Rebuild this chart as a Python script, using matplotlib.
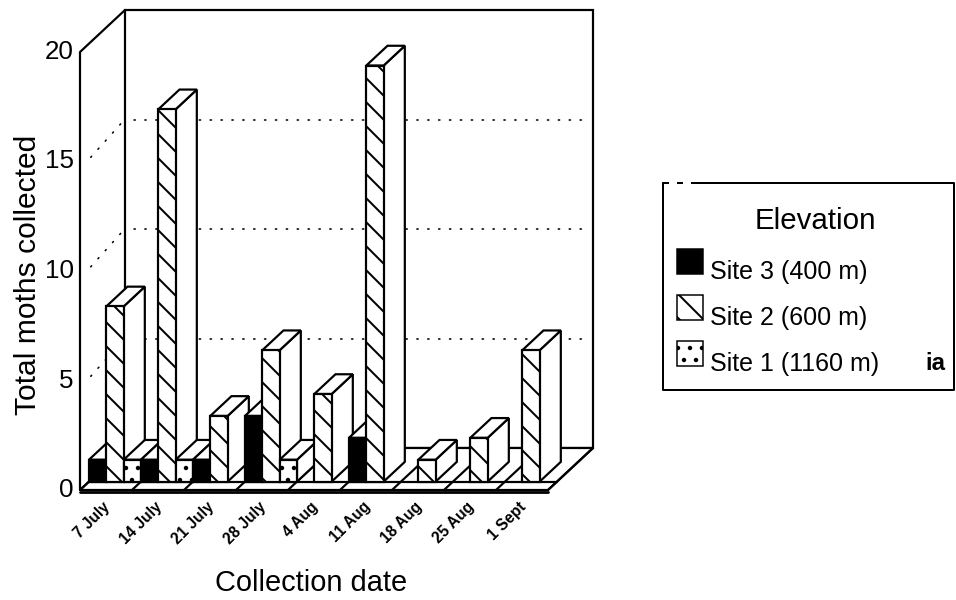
import matplotlib
matplotlib.use("Agg")
import matplotlib.pyplot as plt
from matplotlib.patches import Polygon, Rectangle

# ---- data -------------------------------------------------------------
dates = ["7 July", "14 July", "21 July", "28 July", "4 Aug",
         "11 Aug", "18 Aug", "25 Aug", "1 Sept"]
site3 = [1, 1, 1, 3, 0, 2, 0, 0, 0]      # 400 m
site2 = [8, 17, 3, 6, 4, 19, 1, 2, 6]    # 600 m
site1 = [1, 1, 0, 1, 0, 0, 0, 0, 0]      # 1160 m
series_labels = ["Site 3 (400 m)", "Site 2 (600 m)", "Site 1 (1160 m)"]
y_ticks = [0, 5, 10, 15, 20]
y_max = 20

# ---- figure / styling ------------------------------------------------
DPI = 72
W, H = 956, 600
plt.rcParams["hatch.linewidth"] = 2.0
plt.rcParams["font.family"] = ["Liberation Sans", "DejaVu Sans"]

fig = plt.figure(figsize=(W / DPI, H / DPI), dpi=DPI)
fig.patch.set_facecolor("white")

# one category = 52 px wide, one moth = 21.9 px tall, origin of the front plane
X0, Y0, SX, SY = 80, 490, 52.0, 21.9
ax = fig.add_axes([0, 0, 1, 1])
ax.set_xlim(-X0 / SX, (W - X0) / SX)
ax.set_ylim(-(H - Y0) / SY, Y0 / SY)
ax.axis("off")

DX, DY = 45 / SX, 42 / SY   # offset of the full box depth in data units
LW = 2.2
n = len(dates)


def P(x, v, d):
    """Oblique projection of (category x, value v, depth d in 0..1)."""
    return (x + DX * d, v + DY * d)


def line(pts, z=3, **kw):
    xs, ys = zip(*pts)
    style = dict(color="black", lw=LW, solid_capstyle="round", zorder=z)
    style.update(kw)
    ax.plot(xs, ys, **style)


def face(pts, z, fc="white", hatch=None):
    ax.add_patch(Polygon(pts, closed=True, facecolor=fc, edgecolor="black",
                         lw=LW, hatch=hatch, joinstyle="miter", zorder=z))


# ---- walls ------------------------------------------------------------
face([P(0, 0, 1), P(n, 0, 1), P(n, y_max, 1), P(0, y_max, 1)], z=1)
line([P(0, 0, 0), P(0, y_max, 0), P(0, y_max, 1)], z=2)

dot = dict(lw=1.6, ls=(0, (0.8, 6.0)), solid_capstyle="round",
           dash_capstyle="round")
for v in y_ticks[1:-1]:
    line([P(0.18, v, 1), P(n - 0.1, v, 1)], z=2, **dot)
    line([P(0.12, v, 0.1), P(0, v, 0.95)], z=2, **dot)

# ---- floor -------------------------------------------------------------
face([P(0, 0, 0), P(n, 0, 0), P(n, 0, 1), P(0, 0, 1)], z=3)
line([P(0, 0, 0.2), P(n, 0, 0.2)], z=3)
for c in range(n + 1):
    line([P(c, 0, 0), P(c, 0, 1)], z=3)
line([P(0, -0.1, 0), P(n, -0.1, 0)], z=3, lw=2.8)

# ---- bars --------------------------------------------------------------
D0, D1 = 0.2, 0.67
styles = [dict(fc="black", hatch=None),
          dict(fc="white", hatch="\\"),
          dict(fc="white", hatch=".")]
z = 10
for c in range(n):
    for i, vals in enumerate([site3, site2, site1]):
        h = vals[c]
        if h <= 0:
            continue
        x0 = c + i / 3
        x1 = c + (i + 1) / 3
        face([P(x1, 0, D0), P(x1, 0, D1), P(x1, h, D1), P(x1, h, D0)], z)
        face([P(x0, h, D0), P(x1, h, D0), P(x1, h, D1), P(x0, h, D1)], z)
        face([P(x0, 0, D0), P(x1, 0, D0), P(x1, h, D0), P(x0, h, D0)], z + 0.5,
             **styles[i])
        z += 1

# ---- tick labels --------------------------------------------------------
for v in y_ticks:
    ax.text(-0.12, v, str(v), ha="right", va="center", fontsize=26)

for c, lab in enumerate(dates):
    ax.text(c + 0.64, -0.42, lab, rotation=45, ha="right", va="top",
            fontsize=15.5, fontweight="bold")

fig.text(28 / W, 1 - 275 / H, "Total moths collected", rotation=90,
         ha="center", va="center", fontsize=30)
fig.text(311 / W, 1 - 583 / H, "Collection date", ha="center", va="center",
         fontsize=29)

# ---- legend box (pixel layout) ----------------------------------------
lax = fig.add_axes([0, 0, 1, 1], zorder=5)
lax.set_xlim(0, W)
lax.set_ylim(H, 0)
lax.axis("off")
lax.patch.set_alpha(0)

bx0, bx1, by0, by1 = 663, 954, 183, 390
lax.plot([bx0, bx0, bx1, bx1, 692], [by0, by1, by1, by0, by0],
         color="black", lw=2)
lax.plot([bx0, 692], [by0, by0], color="black", lw=2, ls=(0, (3, 4)))
lax.text(815, 221, "Elevation", ha="center", va="center", fontsize=29.5)

key_y = [261, 307, 353]
text_y = [272, 318, 364]
for lab, st, yc, ty in zip(series_labels, styles, key_y, text_y):
    lax.add_patch(Rectangle((677, yc - 12.5), 26, 25, facecolor=st["fc"],
                            edgecolor="black", lw=1.5, hatch=st["hatch"]))
    lax.text(710, ty, lab, ha="left", va="center", fontsize=25)
lax.text(935, text_y[2], "ia", ha="center", va="center", fontsize=24,
         fontweight="bold")

fig.savefig("out.png", dpi=DPI, facecolor="white")
